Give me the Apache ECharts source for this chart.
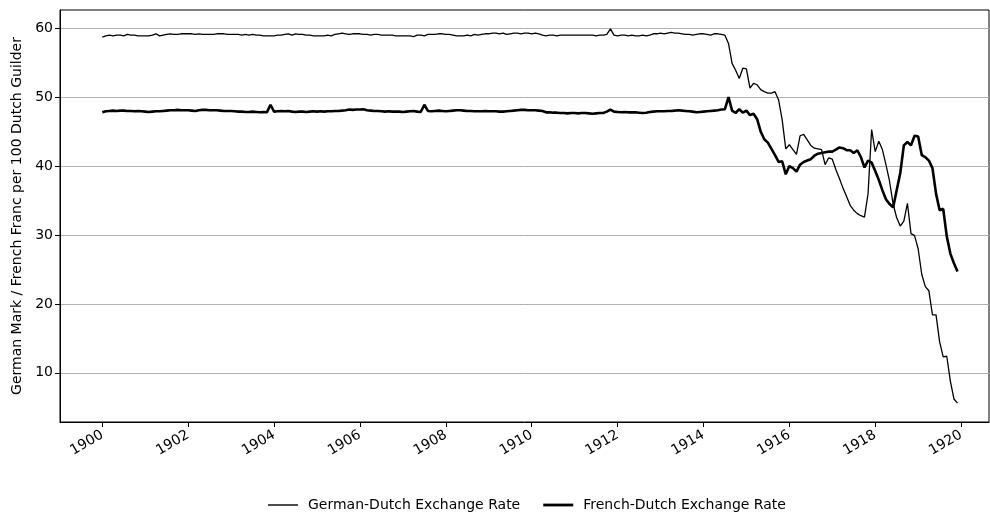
<!DOCTYPE html>
<html>
<head>
<meta charset="utf-8">
<script src="https://cdn.jsdelivr.net/npm/echarts@6/dist/echarts.min.js"></script>
<style>
  html, body { margin: 0; padding: 0; background: #fff; }
  #chart { width: 990px; height: 514px; }
</style>
</head>
<body>
<div id="chart"></div>
<script>
// monthly values, Jan 1900 .. Dec 1919
const startYear = 1900
const yearTicks = [1900, 1902, 1904, 1906, 1908, 1910, 1912, 1914, 1916, 1918, 1920]
const valueTicks = [10, 20, 30, 40, 50, 60]

const germanDutch = [
  58.7, 58.9, 59.0, 58.9, 59.0, 59.0, 58.9, 59.1, 59.0, 59.0, 58.9, 58.9,
  58.9, 58.9, 59.0, 59.2, 58.9, 59.0, 59.1, 59.2, 59.1, 59.1, 59.2, 59.2,
  59.2, 59.2, 59.1, 59.2, 59.1, 59.1, 59.1, 59.1, 59.2, 59.2, 59.2, 59.1,
  59.1, 59.1, 59.1, 59.0, 59.1, 59.0, 59.1, 59.0, 59.0, 58.9, 58.9, 58.9,
  58.9, 59.0, 59.0, 59.1, 59.2, 59.0, 59.2, 59.1, 59.1, 59.0, 59.0, 58.9,
  58.9, 58.9, 58.9, 59.0, 58.9, 59.1, 59.2, 59.3, 59.2, 59.1, 59.2, 59.2,
  59.2, 59.1, 59.1, 59.0, 59.1, 59.1, 59.0, 59.0, 59.0, 59.0, 58.9, 58.9,
  58.9, 58.9, 58.9, 58.8, 59.0, 59.0, 58.9, 59.1, 59.1, 59.1, 59.2, 59.2,
  59.1, 59.1, 59.0, 58.9, 58.9, 58.9, 59.0, 58.9, 59.1, 59.0, 59.1, 59.2,
  59.2, 59.3, 59.3, 59.2, 59.3, 59.1, 59.2, 59.3, 59.3, 59.2, 59.3, 59.3,
  59.2, 59.3, 59.2, 59.0, 58.9, 59.0, 59.0, 58.9, 59.0, 59.0, 59.0, 59.0,
  59.0, 59.0, 59.0, 59.0, 59.0, 59.0, 58.9, 59.0, 59.0, 59.1, 59.9, 59.0,
  58.9, 59.0, 59.0, 58.9, 59.0, 58.9, 58.9, 59.0, 58.9, 59.0, 59.2, 59.2,
  59.3, 59.2, 59.3, 59.4, 59.3, 59.3, 59.2, 59.1, 59.1, 59.0, 59.1, 59.2,
  59.2, 59.1, 59.0, 59.2, 59.2, 59.1, 59.0, 57.8, 54.9, 53.9, 52.7, 54.2,
  54.1, 51.3, 52.0, 51.8, 51.1, 50.8, 50.6, 50.6, 50.8, 49.6, 46.7, 42.5,
  43.1, 42.4, 41.7, 44.4, 44.6, 43.8, 43.0, 42.6, 42.5, 42.4, 40.2, 41.2,
  41.0, 39.5, 38.2, 36.8, 35.6, 34.3, 33.6, 33.1, 32.8, 32.6, 36.0, 45.3,
  42.1, 43.6, 42.4, 40.2, 37.8, 34.5, 32.5, 31.3, 32.0, 34.6, 30.2, 29.9,
  28.0, 24.3, 22.5, 21.9, 18.4, 18.4, 14.5, 12.3, 12.4, 8.8, 6.2, 5.6
]

const frenchDutch = [
  47.8, 47.95, 48.0, 48.05, 48.0, 48.05, 48.05, 48.0, 48.0, 47.95, 48.0, 47.95,
  47.9, 47.85, 47.9, 47.95, 47.95, 48.0, 48.05, 48.1, 48.1, 48.15, 48.1, 48.1,
  48.1, 48.05, 48.0, 48.1, 48.15, 48.15, 48.1, 48.1, 48.1, 48.05, 48.0, 48.0,
  48.0, 47.95, 47.9, 47.9, 47.85, 47.85, 47.9, 47.85, 47.8, 47.85, 47.8, 48.9,
  47.9, 47.95, 48.0, 47.95, 48.0, 47.9, 47.85, 47.9, 47.9, 47.85, 47.9, 47.95,
  47.9, 47.95, 47.9, 47.95, 47.95, 48.0, 48.0, 48.05, 48.1, 48.2, 48.15, 48.2,
  48.2, 48.25, 48.1, 48.05, 48.0, 48.0, 47.95, 47.9, 47.95, 47.9, 47.9, 47.9,
  47.85, 47.9, 47.95, 48.0, 47.9, 47.85, 48.9, 48.0, 47.95, 48.0, 48.05, 48.0,
  47.95, 48.0, 48.05, 48.1, 48.1, 48.05, 48.0, 48.0, 47.95, 47.95, 47.95, 48.0,
  47.95, 47.95, 47.95, 47.9, 47.9, 47.95, 48.0, 48.05, 48.1, 48.15, 48.15, 48.1,
  48.1, 48.1, 48.05, 48.0, 47.8, 47.8, 47.75, 47.75, 47.7, 47.7, 47.65, 47.7,
  47.7, 47.65, 47.7, 47.7, 47.65, 47.6, 47.65, 47.7, 47.7, 47.9, 48.2, 47.9,
  47.85, 47.8, 47.85, 47.8, 47.8, 47.8, 47.75, 47.7, 47.75, 47.85, 47.9, 47.95,
  47.95, 47.95, 48.0, 48.0, 48.05, 48.1, 48.05, 48.0, 47.95, 47.9, 47.8, 47.85,
  47.9, 47.95, 48.0, 48.05, 48.1, 48.2, 48.25, 50.0, 48.05, 47.7, 48.25, 47.75,
  48.05, 47.4, 47.6, 46.8, 45.0, 43.9, 43.4, 42.5, 41.6, 40.6, 40.7, 38.8,
  40.0, 39.7, 39.2, 40.2, 40.6, 40.8, 41.0, 41.5, 41.8, 41.9, 42.0, 42.1,
  42.1, 42.4, 42.7, 42.6, 42.3, 42.3, 41.9, 42.3, 41.3, 39.8, 40.8, 40.5,
  39.3, 38.0, 36.5, 35.2, 34.5, 34.0, 36.5, 39.0, 43.0, 43.5, 43.0, 44.4,
  44.3, 41.6, 41.3, 40.8, 39.7, 36.0, 33.6, 33.8, 29.8, 27.3, 25.9, 24.7
]

function toPairs(values) {
  return values.map(function(v, i) {
    return [startYear + i / 12, v]
  })
}

const font = 'DejaVu Sans'
const chart = echarts.init(document.getElementById('chart'))

chart.setOption({
  backgroundColor: '#FFFFFF',
  animation: false,
  grid: {
    left: 60,
    right: 1,
    top: 10,
    bottom: 92,
    show: true,
    borderColor: '#000000',
    borderWidth: 1,
    containLabel: false
  },
  legend: {
    top: 493,
    left: 263,
    itemWidth: 30,
    itemHeight: 14,
    itemGap: 23,
    textStyle: {
      fontFamily: font,
      fontSize: 14,
      color: '#000000',
      padding: [0, 0, 0, 5]
    },
    data: [
      { name: 'German-Dutch Exchange Rate', icon: 'path://M0,0h30v1.4h-30z' },
      { name: 'French-Dutch Exchange Rate', icon: 'path://M0,0h30v2.8h-30z' }
    ]
  },
  xAxis: {
    type: 'value',
    min: 1899.015,
    max: 1920.65,
    axisLine: {
      show: true,
      lineStyle: { color: '#000000', width: 1 }
    },
    axisTick: {
      show: true,
      length: 5,
      customValues: yearTicks,
      lineStyle: { color: '#000000' }
    },
    axisLabel: {
      customValues: yearTicks,
      rotate: 30,
      margin: 12,
      fontFamily: font,
      fontSize: 14,
      color: '#000000',
      formatter(v) {
        return String(Math.round(v))
      }
    },
    splitLine: { show: false }
  },
  yAxis: {
    type: 'value',
    min: 2.86,
    max: 62.65,
    name: 'German Mark / French Franc per 100 Dutch Guilder',
    nameLocation: 'middle',
    nameGap: 34,
    nameTextStyle: {
      fontFamily: font,
      fontSize: 14,
      color: '#000000'
    },
    axisLine: {
      show: true,
      lineStyle: { color: '#000000', width: 1 }
    },
    axisTick: {
      show: true,
      length: 5,
      customValues: valueTicks,
      lineStyle: { color: '#000000' }
    },
    axisLabel: {
      customValues: valueTicks,
      margin: 7,
      fontFamily: font,
      fontSize: 14,
      color: '#000000'
    },
    splitLine: {
      show: true,
      lineStyle: { color: '#b0b0b0', width: 1 }
    }
  },
  series: [
    {
      name: 'German-Dutch Exchange Rate',
      type: 'line',
      symbol: 'none',
      lineStyle: { color: '#000000', width: 1.3 },
      itemStyle: { color: '#000000' },
      data: toPairs(germanDutch)
    },
    {
      name: 'French-Dutch Exchange Rate',
      type: 'line',
      symbol: 'none',
      lineStyle: { color: '#000000', width: 2.6 },
      itemStyle: { color: '#000000' },
      data: toPairs(frenchDutch)
    }
  ]
})
</script>
</body>
</html>
